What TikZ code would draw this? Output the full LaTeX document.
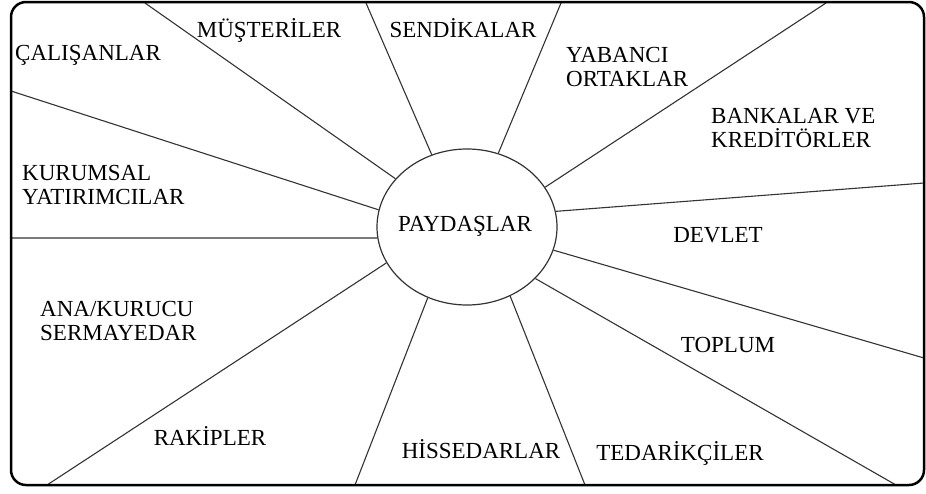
\documentclass[tikz,border=0pt]{standalone}
\usepackage{fontspec}
\setmainfont{Liberation Serif}
\usetikzlibrary{shapes.geometric}
\begin{document}
\begin{tikzpicture}[
  x=1pt, y=-1pt,
  frame/.style={
    draw,
    line width=2.5pt,
    rounded corners=15pt
  },
  spoke/.style={
    draw=black!80,
    line width=1.1pt
  },
  hub/.style={
    ellipse,
    draw=black!80,
    line width=1.2pt,
    minimum width=180pt,
    minimum height=156pt,
    inner sep=0pt
  },
  tag/.style={
    inner sep=0pt,
    font=\fontsize{23}{24.5}\selectfont
  },
  tagblock/.style={
    tag,
    align=left,
    anchor=north west
  }
]
\useasboundingbox (0,0) rectangle (926,493);

\node[hub] at (467,227) (pay) {};
\node[tag, anchor=base] at (465,231) (paytext) {PAYDAŞLAR};

% ends of the spokes on the frame
\coordinate (f1) at (145,3);
\coordinate (f2) at (366,3);
\coordinate (f3) at (11,91);
\coordinate (f4) at (11,238);
\coordinate (f5) at (561,3);
\coordinate (f6) at (826,3);
\coordinate (f7) at (924,183);
\coordinate (f8) at (924,358);
\coordinate (f9) at (896,485);
\coordinate (f10) at (585,485);
\coordinate (f11) at (355,485);
\coordinate (f12) at (47,485);

\draw[spoke] (pay.146) -- (f1);
\draw[spoke] (pay.116) -- (f2);
\draw[spoke] (pay.169) -- (f3);
\draw[spoke] (pay.187) -- (f4);
\draw[spoke] (pay.67) -- (f5);
\draw[spoke] (pay.27) -- (f6);
\draw[spoke] (pay.10) -- (f7);
\draw[spoke] (pay.345) -- (f8);
\draw[spoke] (pay.323) -- (f9);
\draw[spoke] (pay.302) -- (f10);
\draw[spoke] (pay.241) -- (f11);
\draw[spoke] (pay.204) -- (f12);

\draw[frame] (11,2) rectangle (924,485);

% stakeholder labels
\node[tag, anchor=base west] at (15,60) (calisan) {ÇALIŞANLAR};
\node[tag, anchor=base] at (269,37) (musteri) {MÜŞTERİLER};
\node[tag, anchor=base] at (463,37) (sendika) {SENDİKALAR};
\node[tagblock] at (566,47) (yabanci) {YABANCI\\ORTAKLAR};
\node[tagblock] at (711,108) (banka) {BANKALAR VE\\KREDİTÖRLER};
\node[tag, anchor=base] at (718,242) (devlet) {DEVLET};
\node[tagblock] at (22,165) (kurumsal) {KURUMSAL\\YATIRIMCILAR};
\node[tagblock] at (40,301) (kurucu) {ANA/KURUCU\\SERMAYEDAR};
\node[tag, anchor=base] at (210,445) (rakip) {RAKİPLER};
\node[tag, anchor=base] at (481,458) (hisse) {HİSSEDARLAR};
\node[tag, anchor=base] at (728,352) (toplum) {TOPLUM};
\node[tag, anchor=base] at (680,460) (tedarik) {TEDARİKÇİLER};
\end{tikzpicture}
\end{document}
